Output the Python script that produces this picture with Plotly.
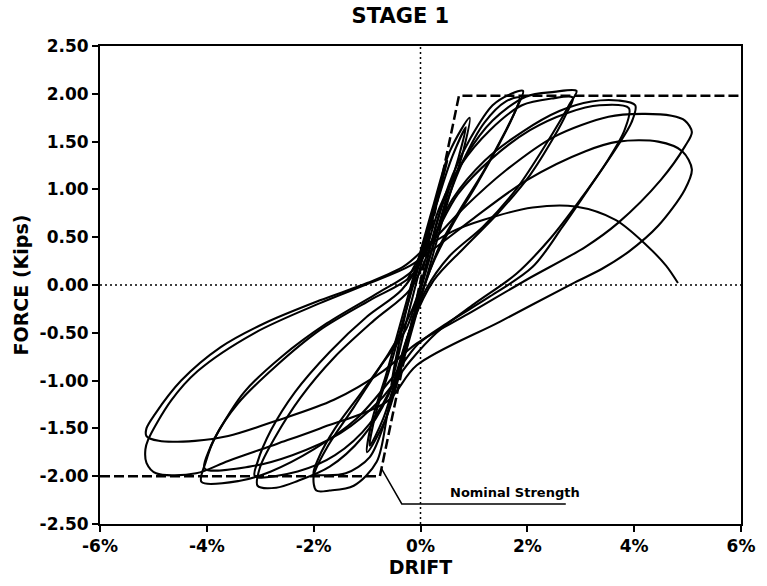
import plotly.graph_objects as go

# ---- hysteresis cycles: drift (%) and force (kips) ----
# each cycle is listed as a closed path starting and ending at its positive peak
cyc05_x = [0.50, 0.30, 0.05, -0.25, -0.55, -0.40, -0.15, 0.15, 0.50]
cyc05_y = [1.30, 0.85, 0.30, -0.35, -1.05, -0.60, 0.00, 0.60, 1.30]

cyc10a_x = [0.92, 0.80, 0.55, 0.25, -0.05, -0.35, -0.65, -1.00, -0.90, -0.65, -0.35, -0.05, 0.25, 0.55, 0.92]
cyc10a_y = [1.75, 1.40, 0.95, 0.35, -0.25, -0.85, -1.40, -1.75, -1.40, -0.95, -0.35, 0.25, 0.85, 1.40, 1.75]

cyc10b_x = [0.85, 0.72, 0.48, 0.18, -0.12, -0.42, -0.70, -0.95, -0.84, -0.58, -0.28, 0.02, 0.32, 0.60, 0.85]
cyc10b_y = [1.65, 1.35, 0.90, 0.30, -0.30, -0.90, -1.40, -1.68, -1.35, -0.88, -0.28, 0.30, 0.88, 1.35, 1.65]

cyc20a_x = [1.92, 1.80, 1.60, 1.17, 0.73, 0.35, 0.05, -0.30, -0.60, -0.82, -1.25, -1.70, -1.95, -2.00,
            -1.75, -1.25, -0.76, -0.26, 0.05, 0.30, 0.60, 0.95, 1.35, 1.70, 1.92]
cyc20a_y = [2.03, 1.85, 1.62, 1.18, 0.78, 0.40, -0.05, -0.65, -1.30, -1.85, -2.10, -2.15, -2.15, -2.00,
            -1.70, -1.28, -0.86, -0.45, 0.10, 0.65, 1.15, 1.55, 1.88, 2.00, 2.03]

cyc20b_x = [1.85, 1.72, 1.45, 1.05, 0.62, 0.25, -0.05, -0.35, -0.65, -0.95, -1.40, -1.85, -2.00,
            -1.90, -1.60, -1.10, -0.60, -0.15, 0.15, 0.45, 0.80, 1.20, 1.60, 1.85]
cyc20b_y = [1.96, 1.75, 1.45, 1.05, 0.65, 0.25, -0.20, -0.80, -1.40, -1.80, -1.97, -1.99, -1.98,
            -1.80, -1.50, -1.12, -0.72, -0.25, 0.25, 0.80, 1.30, 1.70, 1.92, 1.96]

cyc30a_x = [2.92, 2.80, 2.66, 2.29, 1.79, 1.17, 0.54, 0.10, -0.25, -0.60, -1.10, -1.70, -2.30, -2.70, -3.05,
            -3.00, -2.73, -2.25, -1.62, -0.87, -0.20, 0.15, 0.45, 0.85, 1.35, 1.97, 2.50, 2.92]
cyc30a_y = [2.03, 1.90, 1.76, 1.42, 1.00, 0.61, 0.30, -0.05, -0.55, -1.15, -1.60, -1.90, -2.05, -2.12, -2.10,
            -1.90, -1.60, -1.18, -0.76, -0.37, -0.05, 0.35, 0.90, 1.35, 1.72, 1.97, 2.02, 2.03]

cyc30b_x = [2.85, 2.72, 2.50, 2.05, 1.45, 0.80, 0.25, -0.15, -0.45, -0.95, -1.60, -2.30, -3.10,
            -3.05, -2.80, -2.35, -1.70, -1.00, -0.35, 0.05, 0.35, 0.75, 1.30, 1.90, 2.45, 2.85]
cyc30b_y = [1.96, 1.78, 1.55, 1.15, 0.75, 0.38, 0.05, -0.40, -0.95, -1.45, -1.78, -1.95, -2.00,
            -1.85, -1.52, -1.12, -0.70, -0.33, -0.05, 0.30, 0.80, 1.25, 1.62, 1.88, 1.95, 1.96]

cyc40a_x = [4.02, 3.95, 3.65, 3.14, 2.66, 2.10, 1.30, 0.50, -0.05, -0.50, -1.20, -2.00, -2.80, -3.40, -4.10,
            -4.02, -3.85, -3.42, -2.73, -1.88, -0.95, -0.20, 0.20, 0.60, 1.20, 1.90, 2.60, 3.20, 3.70, 4.02]
cyc40a_y = [1.88, 1.70, 1.42, 1.00, 0.61, 0.19, -0.12, -0.40, -0.62, -0.95, -1.40, -1.72, -1.95, -2.05, -2.06,
            -1.85, -1.60, -1.24, -0.86, -0.47, -0.16, 0.08, 0.45, 0.90, 1.30, 1.60, 1.82, 1.92, 1.93, 1.88]

cyc40b_x = [3.90, 3.82, 3.50, 3.00, 2.45, 1.80, 1.00, 0.30, -0.20, -0.75, -1.50, -2.40, -3.20, -4.04,
            -3.95, -3.75, -3.30, -2.60, -1.75, -0.85, -0.15, 0.25, 0.70, 1.35, 2.05, 2.75, 3.35, 3.90]
cyc40b_y = [1.85, 1.62, 1.30, 0.90, 0.50, 0.12, -0.20, -0.50, -0.80, -1.20, -1.55, -1.78, -1.90, -1.92,
            -1.72, -1.50, -1.12, -0.75, -0.40, -0.10, 0.15, 0.50, 0.95, 1.33, 1.62, 1.80, 1.88, 1.85]

cyc50a_x = [5.08, 4.95, 4.50, 3.70, 3.09, 1.97, 0.90, -0.07, -0.70, -1.62, -2.70, -3.60, -4.22, -4.90, -5.13,
            -5.13, -4.97, -4.48, -3.74, -2.92, -1.88, -1.00, -0.30, 0.20, 0.80, 1.60, 2.50, 3.52, 4.15, 4.70,
            4.95, 5.08]
cyc50a_y = [1.60, 1.45, 1.10, 0.65, 0.40, 0.05, -0.30, -0.61, -0.90, -1.20, -1.42, -1.58, -1.63, -1.63, -1.58,
            -1.50, -1.35, -1.00, -0.65, -0.40, -0.16, 0.02, 0.20, 0.45, 0.80, 1.20, 1.55, 1.76, 1.79, 1.77,
            1.72, 1.60]

cyc50b_x = [5.08, 4.95, 4.45, 3.90, 3.40, 2.90, 1.50, -0.07, -0.63, -1.88, -2.68, -3.60, -4.20, -4.95, -5.13,
            -5.15, -5.10, -4.67, -4.17, -3.10, -1.88, -0.95, -0.20, 0.30, 1.00, 2.00, 3.09, 3.70, 4.45, 4.90, 5.08]
cyc50b_y = [1.21, 1.00, 0.62, 0.35, 0.17, 0.03, -0.38, -0.84, -1.22, -1.50, -1.66, -1.84, -1.97, -1.97, -1.86,
            -1.72, -1.62, -1.21, -0.90, -0.50, -0.19, 0.02, 0.20, 0.40, 0.70, 1.10, 1.40, 1.50, 1.50, 1.40, 1.21]

# final monotonic push
push_x = [-0.25, 0.10, 0.60, 1.17, 2.10, 2.90, 3.65, 4.26, 4.60, 4.82]
push_y = [0.05, 0.38, 0.56, 0.68, 0.81, 0.82, 0.68, 0.40, 0.20, 0.02]

# nominal strength envelope
nominal_x = [-6.0, -0.76, 0.72, 6.0]
nominal_y = [-2.0, -2.0, 1.98, 1.98]

# leader line for the "Nominal Strength" label
leader_x = [-0.73, -0.35, 2.72]
leader_y = [-1.92, -2.29, -2.29]

# axis ticks
x_ticks = [-6, -4, -2, 0, 2, 4, 6]
x_tick_labels = ["-6%", "-4%", "-2%", "0%", "2%", "4%", "6%"]
y_ticks = [2.5, 2.0, 1.5, 1.0, 0.5, 0.0, -0.5, -1.0, -1.5, -2.0, -2.5]
y_tick_labels = ["2.50", "2.00", "1.50", "1.00", "0.50", "0.00", "-0.50", "-1.00", "-1.50", "-2.00", "-2.50"]

cycles = [
    (cyc05_x, cyc05_y), (cyc10a_x, cyc10a_y), (cyc10b_x, cyc10b_y),
    (cyc20a_x, cyc20a_y), (cyc20b_x, cyc20b_y),
    (cyc30a_x, cyc30a_y), (cyc30b_x, cyc30b_y),
    (cyc40a_x, cyc40a_y), (cyc40b_x, cyc40b_y),
    (cyc50a_x, cyc50a_y), (cyc50b_x, cyc50b_y),
]

FONT = "DejaVu Sans"
fig = go.Figure()

# dotted reference lines through the origin
fig.add_trace(go.Scatter(x=[0, 0], y=[-2.5, 2.5], mode="lines",
                         line=dict(color="black", width=1.5, dash="2px,3px"), hoverinfo="skip"))
fig.add_trace(go.Scatter(x=[-6, 6], y=[0, 0], mode="lines",
                         line=dict(color="black", width=1.5, dash="2px,3px"), hoverinfo="skip"))

for cx, cy in cycles:
    fig.add_trace(go.Scatter(x=cx, y=cy, mode="lines",
                             line=dict(color="black", width=2.1, shape="spline", smoothing=0.9)))

fig.add_trace(go.Scatter(x=push_x, y=push_y, mode="lines",
                         line=dict(color="black", width=2, shape="spline", smoothing=0.9)))

fig.add_trace(go.Scatter(x=nominal_x, y=nominal_y, mode="lines",
                         line=dict(color="black", width=2.5, dash="10px,4px")))

fig.add_trace(go.Scatter(x=leader_x, y=leader_y, mode="lines",
                         line=dict(color="black", width=1.5)))

fig.add_annotation(x=0.52, y=-2.27, xref="x", yref="y", text="Nominal Strength",
                   showarrow=False, xanchor="left", yanchor="bottom",
                   font=dict(family=FONT, size=13, color="black", weight="bold"))

axis_common = dict(showgrid=False, zeroline=False, showline=True, linecolor="black",
                   linewidth=2, mirror=True, ticks="outside", ticklen=6, tickwidth=1.5,
                   tickcolor="black",
                   tickfont=dict(family=FONT, size=17, color="black", weight="bold"))

fig.update_layout(
    width=767, height=586,
    margin=dict(l=100, r=23, t=46, b=62),
    paper_bgcolor="white", plot_bgcolor="white",
    showlegend=False,
    title=dict(text="STAGE 1", x=0.522, xref="container", xanchor="center",
               y=0.974, yref="container", yanchor="middle",
               font=dict(family=FONT, size=21, color="black", weight="bold")),
    xaxis=dict(range=[-6, 6], tickvals=x_ticks, ticktext=x_tick_labels,
               title=dict(text="DRIFT", standoff=4,
                          font=dict(family=FONT, size=19, color="black", weight="bold")),
               **axis_common),
    yaxis=dict(range=[-2.5, 2.5], tickvals=y_ticks, ticktext=y_tick_labels,
               title=dict(text="FORCE (Kips)", standoff=6,
                          font=dict(family=FONT, size=19, color="black", weight="bold")),
               **axis_common),
)

fig.write_html("out.html")
